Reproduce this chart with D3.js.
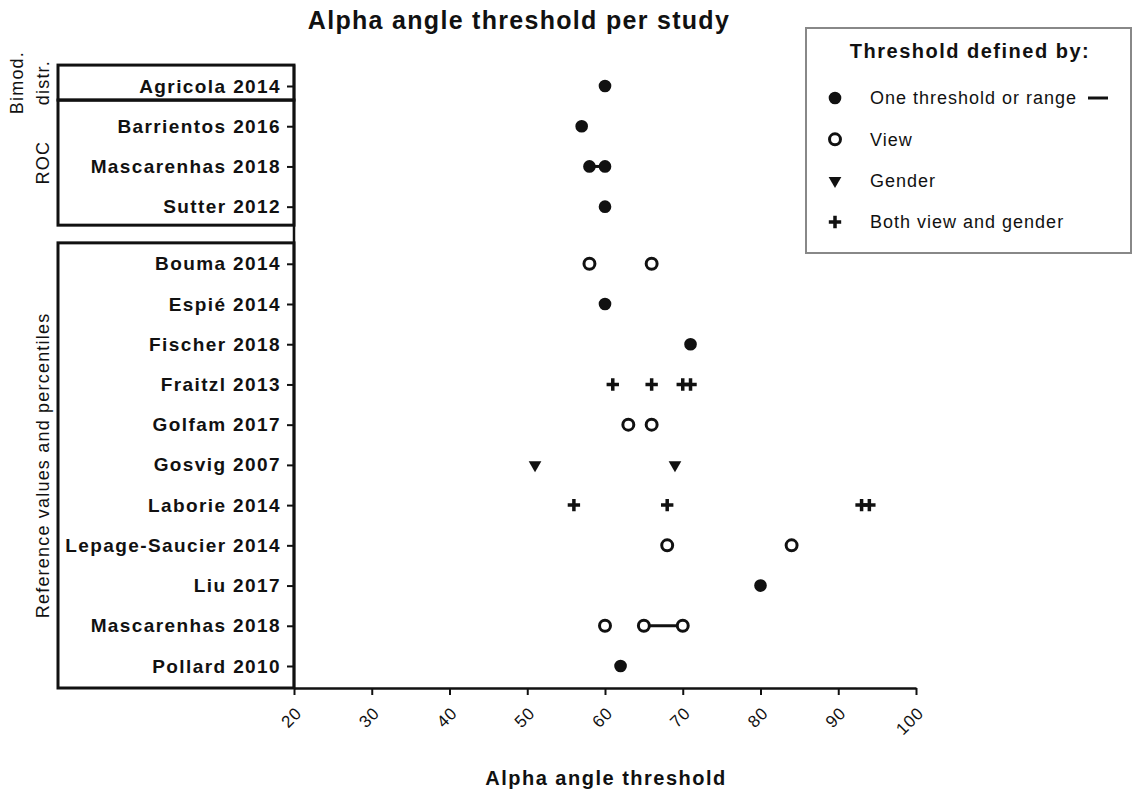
<!DOCTYPE html>
<html>
<head>
<meta charset="utf-8">
<script src="https://cdn.jsdelivr.net/npm/d3@7"></script>
<style>
body { margin: 0; background: #fff; }
text { font-family: "Liberation Sans", Arial, sans-serif; fill: #111; }
</style>
</head>
<body>
<script>
// studies, top to bottom
var studies = ["Agricola 2014", "Barrientos 2016", "Mascarenhas 2018", "Sutter 2012",
    "Bouma 2014", "Espié 2014", "Fischer 2018", "Fraitzl 2013", "Golfam 2017", "Gosvig 2007",
    "Laborie 2014", "Lepage-Saucier 2014", "Liu 2017", "Mascarenhas 2018", "Pollard 2010"];

// threshold values read for each study
var thresholds = [[60], [57], [58, 60], [60],
    [58, 66], [60], [71], [61, 66, 70, 71], [63, 66], [51, 69],
    [56, 68, 93, 94], [68, 84], [80], [60, 65, 70], [62]];

// how the threshold was defined
var kinds = ["one", "one", "one", "one",
    "view", "one", "one", "both", "view", "gender",
    "both", "view", "one", "view", "one"];

// ranges drawn as a line: [row, from, to]
var ranges = [[2, 58, 60], [13, 65, 70]];

var groupLabels = [["Bimod.", "distr."], ["ROC"], ["Reference values and percentiles"]];
var groupSizes = [1, 3, 11];
var groupGap = [0, 0, 0.42];   // extra row space before each group

var xTicks = [20, 30, 40, 50, 60, 70, 80, 90, 100];

var legendKinds = ["one", "view", "gender", "both"];
var legendLabels = ["One threshold or range", "View", "Gender", "Both view and gender"];

var width = 1135, height = 795;

var svg = d3.select("body").append("svg")
    .attr("width", width)
    .attr("height", height);

// row position of each study (with the gap between groups)
var rowPos = [];
var groups = [];
var r = 0, shift = 0;
groupSizes.forEach(function(n, gi) {
    shift += groupGap[gi];
    var first = r + shift;
    for (var k = 0; k < n; k++) { rowPos.push(r + shift); r++; }
    groups.push({labels: groupLabels[gi], first: first, last: r - 1 + shift, gap: groupGap[gi]});
});

var x = d3.scaleLinear().domain([20, 100]).range([294, 916]);
var y = d3.scaleLinear().domain([0, d3.max(rowPos)]).range([86, 666]);
var axisY = 688;

// group boxes
var boxLeft = 58;
groups.forEach(function(g, i) {
    var top, bottom;
    if (i > 0 && g.gap === 0) top = y(groups[i - 1].last + 0.35);
    else top = y(g.first - 0.52);
    if (i === groups.length - 1) bottom = axisY;
    else if (groups[i + 1].gap === 0) bottom = y(g.last + 0.35);
    else bottom = y(g.last + 0.46);
    g.top = top; g.bottom = bottom;
});

svg.append("g").selectAll("rect")
    .data(groups)
    .enter().append("rect")
    .attr("x", boxLeft)
    .attr("y", function(d) { return d.top; })
    .attr("width", x(20) - boxLeft)
    .attr("height", function(d) { return d.bottom - d.top; })
    .attr("fill", "none")
    .attr("stroke", "#111")
    .attr("stroke-width", 3);

// group labels, rotated
var gl = svg.append("g").selectAll("g")
    .data(groups)
    .enter().append("g")
    .attr("transform", function(d) { return "translate(43," + (d.top + d.bottom) / 2 + ") rotate(-90)"; });
gl.each(function(d) {
    var n = d.labels.length;
    d3.select(this).selectAll("text")
        .data(d.labels)
        .enter().append("text")
        .attr("text-anchor", "middle")
        .attr("y", function(t, i) { return (i - (n - 1)) * 26; })
        .attr("dy", "0.35em")
        .style("font-size", "18px")
        .style("letter-spacing", "1.2px")
        .text(function(t) { return t; });
});

// x axis
var xAxis = svg.append("g")
    .attr("transform", "translate(0," + axisY + ")")
    .call(d3.axisBottom(x).tickValues(xTicks).tickSize(7).tickSizeOuter(0));
xAxis.select(".domain").attr("stroke", "#111").attr("stroke-width", 2.5);
xAxis.selectAll(".tick line").attr("stroke", "#111").attr("stroke-width", 2);
xAxis.selectAll(".tick text")
    .attr("x", 0).attr("y", 0).attr("dy", "0.35em")
    .attr("text-anchor", "end")
    .attr("transform", "translate(4,22) rotate(-45)")
    .style("font-size", "17px")
    .style("letter-spacing", "0.8px")
    .style("font-family", "Liberation Sans, Arial, sans-serif")
    .attr("fill", "#111");

// y axis
var yAxis = svg.append("g")
    .attr("transform", "translate(" + x(20) + ",0)")
    .call(d3.axisLeft(y).tickValues(rowPos).tickSize(7).tickPadding(6)
        .tickFormat(function(d, i) { return studies[i]; }));
yAxis.select(".domain").remove();
yAxis.append("line")
    .attr("x1", 0).attr("x2", 0)
    .attr("y1", groups[0].top).attr("y2", axisY + 1)
    .attr("stroke", "#111").attr("stroke-width", 2.5);
yAxis.selectAll(".tick line").attr("stroke", "#111").attr("stroke-width", 2);
yAxis.selectAll(".tick text")
    .style("font-size", "19px")
    .style("font-weight", "bold")
    .style("letter-spacing", "1.4px")
    .style("font-family", "Liberation Sans, Arial, sans-serif")
    .attr("fill", "#111");

// markers
var symFilled = d3.symbol().type(d3.symbolCircle).size(Math.PI * 40);
var symOpen = d3.symbol().type(d3.symbolCircle).size(Math.PI * 30);
var symTri = d3.symbol().type(d3.symbolTriangle).size(70);
var symPlus = d3.symbol().type(d3.symbolPlus).size(52);

function drawMarker(sel, kind) {
    if (kind === "one") {
        sel.append("path").attr("d", symFilled()).attr("fill", "#111");
    } else if (kind === "view") {
        sel.append("path").attr("d", symOpen()).attr("fill", "#fff")
            .attr("stroke", "#111").attr("stroke-width", 3);
    } else if (kind === "gender") {
        sel.append("path").attr("d", symTri()).attr("fill", "#111")
            .attr("transform", "rotate(180)");
    } else {
        sel.append("path").attr("d", symPlus()).attr("fill", "none")
            .attr("stroke", "#111").attr("stroke-width", 3.5);
    }
}

// range lines
svg.append("g").selectAll("line")
    .data(ranges)
    .enter().append("line")
    .attr("x1", function(d) { return x(d[1]); })
    .attr("x2", function(d) { return x(d[2]); })
    .attr("y1", function(d) { return y(rowPos[d[0]]); })
    .attr("y2", function(d) { return y(rowPos[d[0]]); })
    .attr("stroke", "#111")
    .attr("stroke-width", 3);

var points = [];
thresholds.forEach(function(vals, i) {
    vals.forEach(function(v) { points.push({row: i, value: v, kind: kinds[i]}); });
});

svg.append("g").selectAll("g")
    .data(points)
    .enter().append("g")
    .attr("transform", function(d) { return "translate(" + x(d.value) + "," + y(rowPos[d.row]) + ")"; })
    .each(function(d) { drawMarker(d3.select(this), d.kind); });

// title and axis label
svg.append("text")
    .attr("x", 519).attr("y", 29)
    .attr("text-anchor", "middle")
    .style("font-size", "25px")
    .style("font-weight", "bold")
    .style("letter-spacing", "1.3px")
    .text("Alpha angle threshold per study");

svg.append("text")
    .attr("x", 606).attr("y", 785)
    .attr("text-anchor", "middle")
    .style("font-size", "20px")
    .style("font-weight", "bold")
    .style("letter-spacing", "1.5px")
    .text("Alpha angle threshold");

// legend
var legend = svg.append("g");
legend.append("rect")
    .attr("x", 806).attr("y", 28)
    .attr("width", 325).attr("height", 225)
    .attr("fill", "#fff")
    .attr("stroke", "#888")
    .attr("stroke-width", 2);
legend.append("text")
    .attr("x", 970).attr("y", 58)
    .attr("text-anchor", "middle")
    .style("font-size", "20px")
    .style("font-weight", "bold")
    .style("letter-spacing", "1.5px")
    .text("Threshold defined by:");

var ly = d3.scalePoint().domain(legendKinds).range([98, 222]);
var items = legend.selectAll(".item")
    .data(legendKinds)
    .enter().append("g")
    .attr("class", "item")
    .attr("transform", function(d) { return "translate(835," + ly(d) + ")"; });
items.each(function(d) { drawMarker(d3.select(this), d); });
items.append("text")
    .attr("x", 35)
    .attr("dy", "0.35em")
    .style("font-size", "18px")
    .style("letter-spacing", "1px")
    .attr("fill", "#333")
    .text(function(d, i) { return legendLabels[i]; });
legend.append("line")
    .attr("x1", 1088).attr("x2", 1108)
    .attr("y1", ly("one")).attr("y2", ly("one"))
    .attr("stroke", "#111").attr("stroke-width", 3);
</script>
</body>
</html>
